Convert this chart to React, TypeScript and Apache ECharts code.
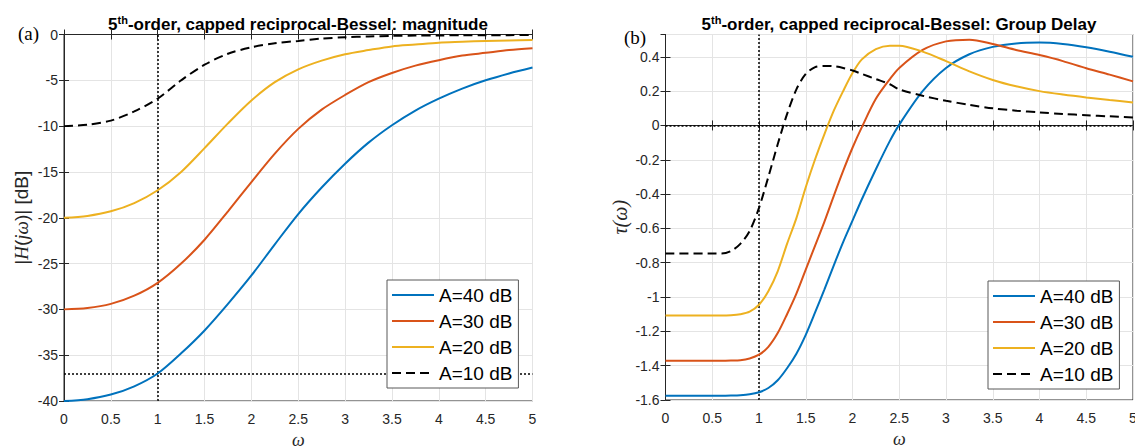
import React, { useEffect, useRef } from 'react';
import * as echarts from 'echarts';

// ---------- data ----------
const SERIES_NAMES = ['A=40 dB', 'A=30 dB', 'A=20 dB', 'A=10 dB'];

const MAG_W = [0, 0.25, 0.5, 0.75, 1, 1.25, 1.5, 1.75, 2, 2.25, 2.5, 2.75, 3, 3.25, 3.5, 3.75, 4, 4.25, 4.5, 4.75, 5];
const MAG_A40 = [-40, -39.8, -39.3, -38.4, -37.0, -34.8, -32.3, -29.4, -26.3, -22.9, -19.6, -16.7, -14.1, -11.8, -9.9, -8.3, -7.0, -5.9, -5.0, -4.25, -3.6];
const MAG_A30 = [-30, -29.85, -29.4, -28.5, -27.1, -25.0, -22.4, -19.3, -16.1, -13.0, -10.3, -8.2, -6.6, -5.2, -4.2, -3.4, -2.8, -2.3, -2.0, -1.7, -1.5];
const MAG_A20 = [-20, -19.8, -19.3, -18.4, -17.0, -15.0, -12.4, -9.7, -7.2, -5.2, -3.8, -2.85, -2.15, -1.7, -1.3, -1.1, -0.9, -0.8, -0.7, -0.65, -0.6];
const MAG_A10 = [-10, -9.85, -9.4, -8.4, -7.0, -5.0, -3.3, -2.1, -1.4, -0.95, -0.7, -0.45, -0.3, -0.22, -0.15, -0.12, -0.1, -0.09, -0.08, -0.07, -0.06];

const GD_W = [0, 0.5, 0.6, 0.7, 0.8, 0.9, 1.0, 1.1, 1.2, 1.3, 1.4, 1.5, 1.6, 1.7, 1.8, 1.9, 2.0, 2.1, 2.25, 2.4, 2.5, 2.75, 3.0, 3.25, 3.5, 3.75, 4.0, 4.25, 4.5, 4.75, 5.0];
const GD_A40 = [-1.575, -1.575, -1.575, -1.574, -1.572, -1.567, -1.555, -1.53, -1.485, -1.415, -1.33, -1.22, -1.09, -0.955, -0.815, -0.68, -0.555, -0.43, -0.255, -0.09, 0.005, 0.2, 0.335, 0.415, 0.458, 0.478, 0.483, 0.475, 0.456, 0.43, 0.40];
const GD_A30 = [-1.371, -1.371, -1.371, -1.37, -1.368, -1.358, -1.336, -1.29, -1.21, -1.10, -0.98, -0.84, -0.70, -0.56, -0.41, -0.265, -0.13, -0.01, 0.155, 0.27, 0.335, 0.44, 0.49, 0.50, 0.475, 0.44, 0.41, 0.375, 0.333, 0.296, 0.257];
const GD_A20 = [-1.108, -1.108, -1.108, -1.106, -1.10, -1.085, -1.045, -0.966, -0.85, -0.69, -0.54, -0.36, -0.197, -0.05, 0.086, 0.20, 0.305, 0.385, 0.445, 0.465, 0.465, 0.43, 0.375, 0.315, 0.265, 0.228, 0.20, 0.18, 0.163, 0.148, 0.134];
const GD_A10 = [-0.746, -0.746, -0.746, -0.732, -0.69, -0.615, -0.48, -0.30, -0.11, 0.066, 0.21, 0.30, 0.34, 0.347, 0.345, 0.335, 0.32, 0.30, 0.27, 0.24, 0.21, 0.173, 0.144, 0.12, 0.10, 0.086, 0.076, 0.067, 0.06, 0.053, 0.047];

const MAG_Y_TICK = 5;
const GD_Y_TICK = 0.2;
const X_TICK = 0.5;
const MAG_REF_DB = -37;
const REF_W = 1;

// ---------- styles ----------
const FONT = "'Liberation Sans', Arial, Helvetica, sans-serif";
const SERIF = "'Liberation Serif', 'Times New Roman', serif";
const AX = '#262626';
const GRID = '#e4e4e4';
const COLORS = ['#0072BD', '#D95319', '#EDB120', '#000000'];

function pairs(w: number[], v: number[]) {
  return w.map((x, i) => [x, v[i]]);
}

function xAxes(g: number, name: string) {
  return [
    {
      gridIndex: g, type: 'value', min: 0, max: 5, interval: X_TICK,
      axisLine: { lineStyle: { color: AX, width: 1 } },
      axisTick: { inside: true, length: 5, lineStyle: { color: AX } },
      axisLabel: { color: AX, fontSize: 14, fontFamily: FONT, margin: 11 },
      splitLine: { show: true, lineStyle: { color: GRID, width: 1 } },
      name, nameLocation: 'middle', nameGap: 30,
      nameTextStyle: { fontSize: 18, fontStyle: 'italic', fontFamily: SERIF, color: AX },
    },
    {
      gridIndex: g, type: 'value', position: 'top', min: 0, max: 5, interval: X_TICK,
      axisLine: { lineStyle: { color: AX, width: 1 } },
      axisTick: { inside: true, length: 5, lineStyle: { color: AX } },
      axisLabel: { show: false },
      splitLine: { show: false },
    },
  ];
}

function yAxes(g: number, min: number, max: number, interval: number, name: string, rich: any, gap: number) {
  return [
    {
      gridIndex: g, type: 'value', min, max, interval, position: 'left',
      axisLine: { show: true, lineStyle: { color: AX, width: 1 } },
      axisTick: { show: true, inside: true, length: 5, lineStyle: { color: AX } },
      axisLabel: { color: AX, fontSize: 14, fontFamily: FONT, margin: 6, showMaxLabel: max === 0 },
      splitLine: { show: true, lineStyle: { color: GRID, width: 1 } },
      name, nameLocation: 'middle', nameGap: gap, nameRotate: 90,
      nameTextStyle: { fontSize: 19, fontFamily: FONT, color: AX, rich },
    },
    {
      gridIndex: g, type: 'value', min, max, interval, position: 'right',
      axisLine: { show: true, lineStyle: { color: AX, width: 1 } },
      axisTick: { show: true, inside: true, length: 5, lineStyle: { color: AX } },
      axisLabel: { show: false },
      splitLine: { show: false },
    },
  ];
}

function lineSeries(name: string, idx: number, xi: number, yi: number, data: number[][], extra: any = {}) {
  return {
    name, type: 'line', xAxisIndex: xi, yAxisIndex: yi, data,
    symbol: 'none', showSymbol: false, smooth: 0.3, silent: true,
    lineStyle: { color: COLORS[idx], width: 2, type: idx === 3 ? [9, 5] : 'solid' },
    itemStyle: { color: COLORS[idx] },
    z: 3,
    ...extra,
  };
}

function refLines(items: any[]) {
  return {
    silent: true, symbol: 'none', z: 3,
    label: { show: false },
    lineStyle: { color: '#000', width: 1.5, type: [2, 2] },
    data: items,
  };
}

function legend(left: number, top: number) {
  return {
    orient: 'vertical', left, top, z: 20,
    data: SERIES_NAMES,
    itemWidth: 42, itemHeight: 10, itemGap: 4,
    padding: [4, 6, 4, 4],
    backgroundColor: '#ffffff',
    borderColor: '#595959', borderWidth: 1, borderRadius: 0,
    itemStyle: { opacity: 0, borderWidth: 0 },
    textStyle: { fontSize: 19, fontFamily: FONT, color: '#000', lineHeight: 22 },
    selectedMode: false,
  };
}

const titleRich = {
  n: { fontSize: 17, fontWeight: 'bold', fontFamily: FONT, fill: '#000', lineHeight: 20 },
  s: { fontSize: 11, fontWeight: 'bold', fontFamily: FONT, fill: '#000', verticalAlign: 'top', lineHeight: 12 },
};

export default function App() {
  const ref = useRef<HTMLDivElement>(null);
  useEffect(() => {
    const chart = echarts.init(ref.current!, null, { renderer: 'svg' });
    const magRich = { i: { fontSize: 19, fontStyle: 'italic', fontFamily: SERIF, color: AX }, n: { fontSize: 19, fontFamily: FONT, color: AX } };
    const gdRich = { i: { fontSize: 20, fontStyle: 'italic', fontFamily: SERIF, color: AX } };
    const magSets = [MAG_A40, MAG_A30, MAG_A20, MAG_A10];
    const gdSets = [GD_A40, GD_A30, GD_A20, GD_A10];
    const option: any = {
      animation: false,
      backgroundColor: '#ffffff',
      grid: [
        { left: 64, top: 34.5, width: 468.5, height: 366.5, show: true, borderColor: AX, borderWidth: 1, backgroundColor: 'transparent', containLabel: false, outerBoundsMode: 'none' },
        { left: 665.5, top: 34.5, width: 467.5, height: 365.5, show: true, borderColor: AX, borderWidth: 1, backgroundColor: 'transparent', containLabel: false, outerBoundsMode: 'none' },
      ],
      xAxis: [...xAxes(0, 'ω'), ...xAxes(1, 'ω')],
      yAxis: [
        ...yAxes(0, -40, 0, MAG_Y_TICK, '{n||}{i|H}{n|(}{i|jω}{n|)| [dB]}', magRich, 33),
        ...yAxes(1, -1.6, 0.53, GD_Y_TICK, '{i|τ(ω)}', gdRich, 36),
      ],
      legend: [legend(387, 280), legend(988, 281)],
      series: [
        ...magSets.map((v, i) => lineSeries(SERIES_NAMES[i], i, 0, 0, pairs(MAG_W, v),
          i === 0 ? { markLine: refLines([{ xAxis: REF_W }, { yAxis: MAG_REF_DB }]) } : {})),
        ...gdSets.map((v, i) => lineSeries(SERIES_NAMES[i], i, 2, 2, pairs(GD_W, v),
          i === 0 ? { markLine: refLines([{ xAxis: REF_W }, { yAxis: 0 }]) } : {})),
      ],
      graphic: [
        { type: 'text', x: 298, y: 24, style: { text: '{n|5}{s|th}{n|-order, capped reciprocal-Bessel: magnitude}', rich: titleRich, align: 'center', verticalAlign: 'middle' } },
        { type: 'text', x: 899, y: 24, style: { text: '{n|5}{s|th}{n|-order, capped reciprocal-Bessel: Group Delay}', rich: titleRich, align: 'center', verticalAlign: 'middle' } },
        { type: 'text', x: 18, y: 33, style: { text: '(a)', font: `19px ${SERIF}`, fill: '#000', align: 'left', verticalAlign: 'middle' } },
        { type: 'text', x: 624, y: 37, style: { text: '(b)', font: `19px ${SERIF}`, fill: '#000', align: 'left', verticalAlign: 'middle' } },
      ],
    };
    chart.setOption(option);
    return () => chart.dispose();
  }, []);
  return <div ref={ref} style={{ position: 'absolute', left: 0, top: 0, width: 1135, height: 446 }} />;
}
